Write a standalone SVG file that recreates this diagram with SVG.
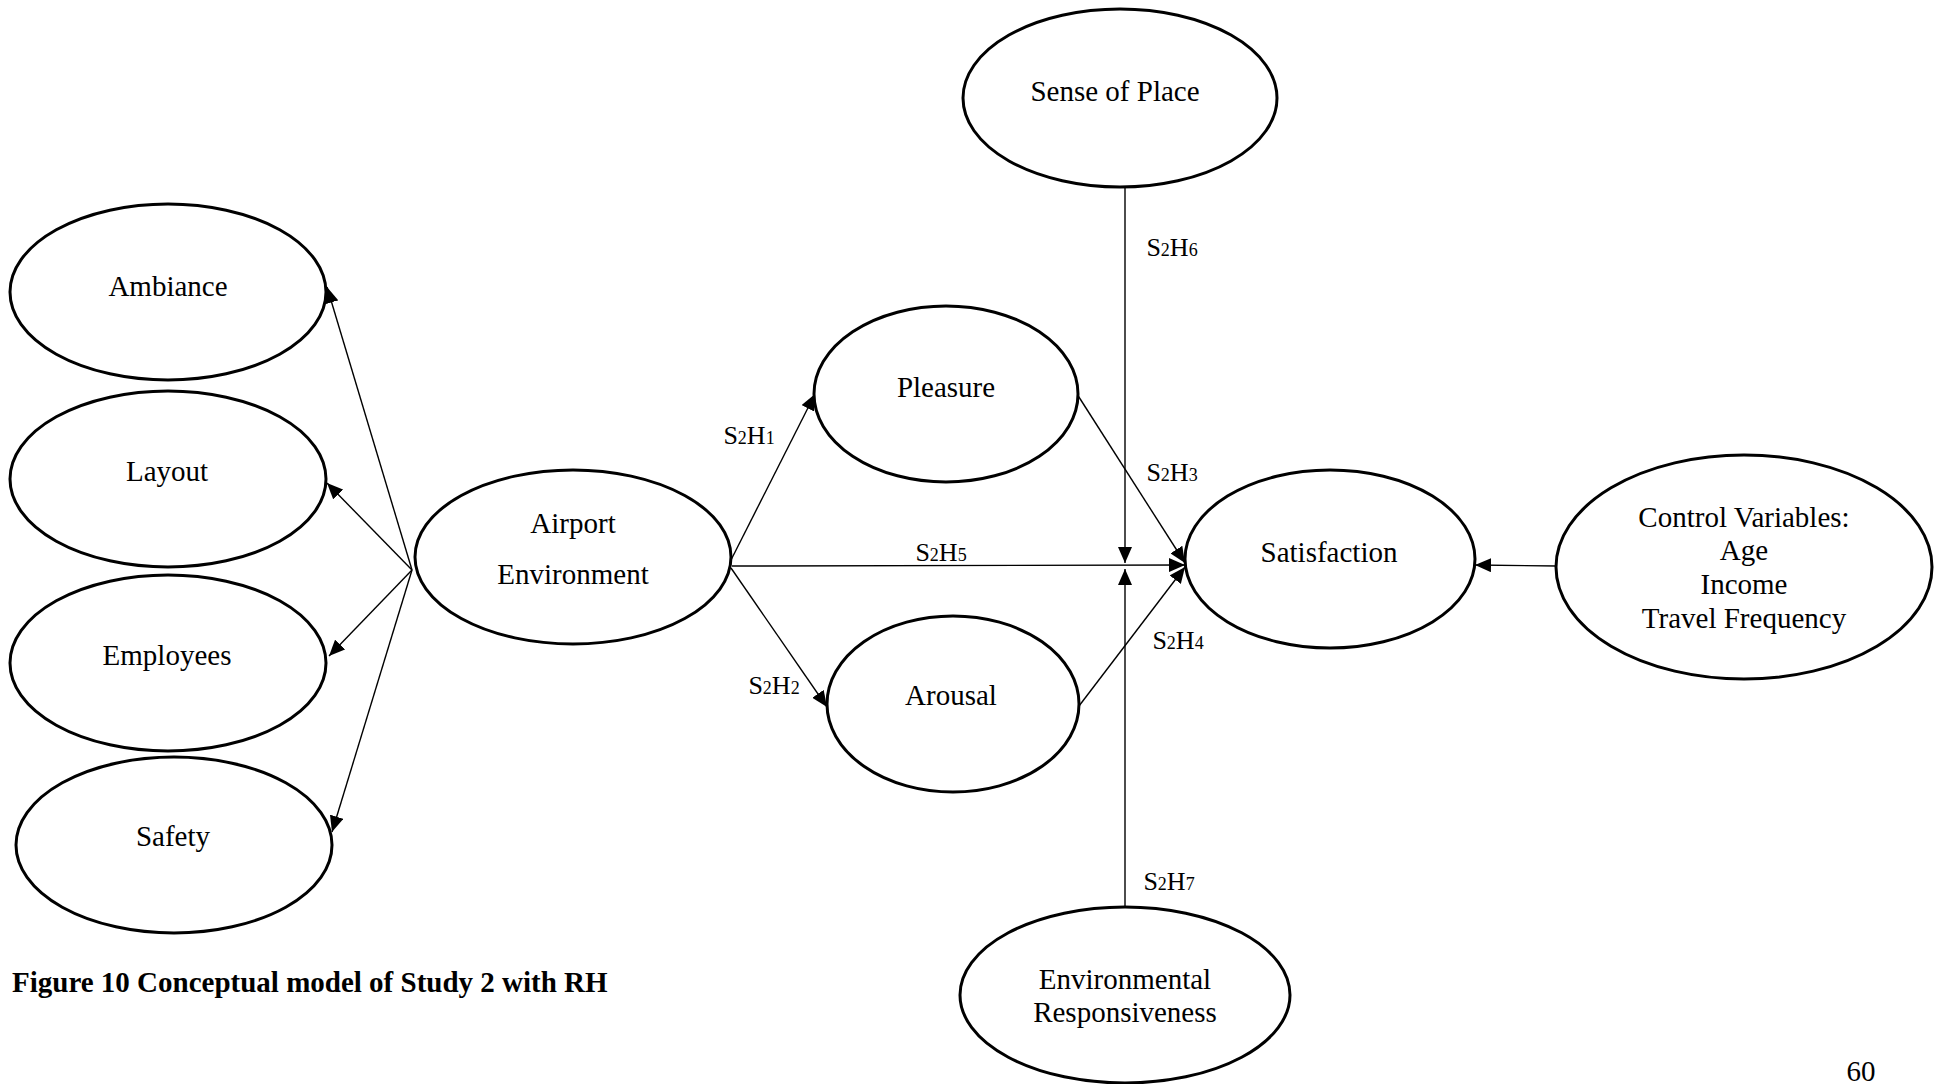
<svg xmlns="http://www.w3.org/2000/svg" width="1942" height="1084" viewBox="0 0 1942 1084">
  <style>
    .node { fill: #fff; stroke: #000; stroke-width: 3; }
    .lbl { font-family: "Liberation Serif", "Times New Roman", serif; font-size: 29px; fill: #000; text-anchor: middle; }
    .hyp { font-family: "Liberation Serif", "Times New Roman", serif; font-size: 26px; fill: #000; text-anchor: middle; }
    .sub { font-size: 18px; }
    .edge { stroke: #000; stroke-width: 1.4; fill: none; marker-end: url(#arrow); }
    .cap { font-family: "Liberation Serif", "Times New Roman", serif; font-size: 29px; font-weight: bold; fill: #000; }
  </style>
  <defs>
    <marker id="arrow" markerUnits="userSpaceOnUse" markerWidth="16" markerHeight="14" refX="16" refY="7" orient="auto">
      <path d="M0,0 L16,7 L0,14 z" fill="#000"/>
    </marker>
  </defs>
  <rect width="1942" height="1084" fill="#fff"/>

  <!-- connectors -->
  <g id="connectors">
    <line class="edge" x1="412" y1="570" x2="327" y2="287"/>
    <line class="edge" x1="412" y1="570" x2="327" y2="483"/>
    <line class="edge" x1="412" y1="570" x2="329" y2="656"/>
    <line class="edge" x1="412" y1="570" x2="332" y2="832"/>
    <line class="edge" x1="731" y1="560" x2="815" y2="394"/>
    <line class="edge" x1="731" y1="568" x2="827" y2="707"/>
    <line class="edge" x1="732" y1="566" x2="1185" y2="565"/>
    <line class="edge" x1="1077" y1="394" x2="1185" y2="563"/>
    <line class="edge" x1="1079" y1="706" x2="1185" y2="567"/>
    <line class="edge" x1="1125" y1="187" x2="1125" y2="563"/>
    <line class="edge" x1="1125" y1="907" x2="1125" y2="569"/>
    <line class="edge" x1="1557" y1="566" x2="1475" y2="565"/>
  </g>

  <!-- hypothesis labels -->
  <g id="hypotheses">
    <text class="hyp" x="749" y="444">S<tspan class="sub">2</tspan>H<tspan class="sub">1</tspan></text>
    <text class="hyp" x="774" y="694">S<tspan class="sub">2</tspan>H<tspan class="sub">2</tspan></text>
    <text class="hyp" x="1172" y="481">S<tspan class="sub">2</tspan>H<tspan class="sub">3</tspan></text>
    <text class="hyp" x="1178" y="649">S<tspan class="sub">2</tspan>H<tspan class="sub">4</tspan></text>
    <text class="hyp" x="941" y="561">S<tspan class="sub">2</tspan>H<tspan class="sub">5</tspan></text>
    <text class="hyp" x="1172" y="256">S<tspan class="sub">2</tspan>H<tspan class="sub">6</tspan></text>
    <text class="hyp" x="1169" y="890">S<tspan class="sub">2</tspan>H<tspan class="sub">7</tspan></text>
  </g>

  <!-- nodes -->
  <g id="ambiance">
    <ellipse class="node" cx="168" cy="292" rx="158" ry="88"/>
    <text class="lbl" x="168" y="296">Ambiance</text>
  </g>
  <g id="layout">
    <ellipse class="node" cx="168" cy="479" rx="158" ry="88"/>
    <text class="lbl" x="167" y="481">Layout</text>
  </g>
  <g id="employees">
    <ellipse class="node" cx="168" cy="663" rx="158" ry="88"/>
    <text class="lbl" x="167" y="665">Employees</text>
  </g>
  <g id="safety">
    <ellipse class="node" cx="174" cy="845" rx="158" ry="88"/>
    <text class="lbl" x="173" y="846">Safety</text>
  </g>
  <g id="airport-environment">
    <ellipse class="node" cx="573" cy="557" rx="158" ry="87"/>
    <text class="lbl" x="573" y="533">Airport</text>
    <text class="lbl" x="573" y="584">Environment</text>
  </g>
  <g id="pleasure">
    <ellipse class="node" cx="946" cy="394" rx="132" ry="88"/>
    <text class="lbl" x="946" y="397">Pleasure</text>
  </g>
  <g id="arousal">
    <ellipse class="node" cx="953" cy="704" rx="126" ry="88"/>
    <text class="lbl" x="951" y="705">Arousal</text>
  </g>
  <g id="sense-of-place">
    <ellipse class="node" cx="1120" cy="98" rx="157" ry="89"/>
    <text class="lbl" x="1115" y="101">Sense of Place</text>
  </g>
  <g id="satisfaction">
    <ellipse class="node" cx="1330" cy="559" rx="145" ry="89"/>
    <text class="lbl" x="1329" y="562">Satisfaction</text>
  </g>
  <g id="control-variables">
    <ellipse class="node" cx="1744" cy="567" rx="188" ry="112"/>
    <text class="lbl" x="1744" y="527">Control Variables:</text>
    <text class="lbl" x="1744" y="560">Age</text>
    <text class="lbl" x="1744" y="594">Income</text>
    <text class="lbl" x="1744" y="628">Travel Frequency</text>
  </g>
  <g id="environmental-responsiveness">
    <ellipse class="node" cx="1125" cy="995" rx="165" ry="88"/>
    <text class="lbl" x="1125" y="989">Environmental</text>
    <text class="lbl" x="1125" y="1022">Responsiveness</text>
  </g>

  <!-- caption and page number -->
  <text class="cap" x="12" y="992">Figure 10 Conceptual model of Study 2 with RH</text>
  <text class="lbl" x="1861" y="1081">60</text>
</svg>
